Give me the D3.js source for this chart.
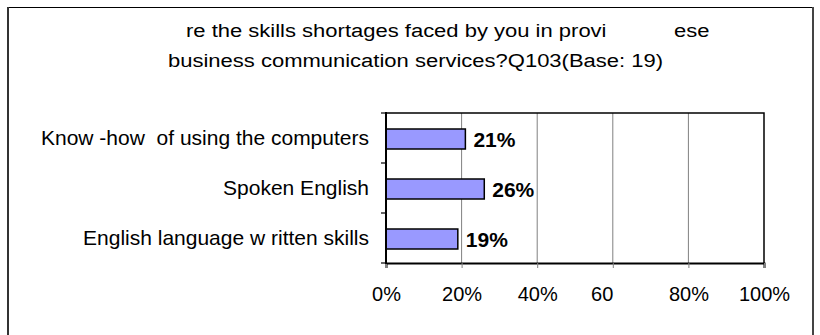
<!DOCTYPE html>
<html>
<head>
<meta charset="utf-8">
<script src="https://cdn.jsdelivr.net/npm/d3@7"></script>
<style>
  html, body { margin: 0; padding: 0; background: #fff; }
  svg { display: block; font-family: Arial, "Liberation Sans", sans-serif; }
</style>
</head>
<body>
<svg id="chart" width="820" height="335"></svg>
<script>
// Skills shortages (percent of respondents)
const categories = [
  "Know -how  of using the computers",
  "Spoken English",
  "English language w ritten skills"
];
const values = [21, 26, 19];
const tickValues = [0, 20, 40, 60, 80, 100];
const tickLabels = ["0%", "20%", "40%", "60", "80%", "100%"];
const titleLine1 = ["re the skills shortages faced by you in provi", "ese"];
const titleLine2 = "business communication services?Q103(Base: 19)";

const svg = d3.select("#chart");
const W = 820, H = 335;
const plot = { left: 386, right: 764, top: 113, bottom: 263 };

// outer frame (open at the bottom)
svg.append("line").attr("x1", 7).attr("x2", 814).attr("y1", 7.5).attr("y2", 7.5)
  .attr("stroke", "#000").attr("stroke-width", 1.2);
svg.append("line").attr("x1", 8).attr("x2", 8).attr("y1", 7).attr("y2", H)
  .attr("stroke", "#333").attr("stroke-width", 2);
svg.append("line").attr("x1", 813).attr("x2", 813).attr("y1", 7).attr("y2", H)
  .attr("stroke", "#444").attr("stroke-width", 2);

// title, set in a slightly widened face
const sx = 1.158;
const title = svg.append("g").attr("transform", `scale(${sx},1)`)
  .attr("font-size", 19).attr("fill", "#000");
title.append("text").attr("x", 186 / sx).attr("y", 37).text(titleLine1[0]);
title.append("text").attr("x", 674 / sx).attr("y", 37).text(titleLine1[1]);
title.append("text").attr("x", 168 / sx).attr("y", 67).text(titleLine2);

const x = d3.scaleLinear().domain([0, 100]).range([plot.left, plot.right]);
const y = d3.scaleBand().domain(categories).range([plot.top, plot.bottom])
  .paddingInner(0.6).paddingOuter(0.3);

// vertical gridlines
svg.append("g").selectAll("line").data(tickValues.slice(1, -1)).join("line")
  .attr("x1", d => x(d)).attr("x2", d => x(d))
  .attr("y1", plot.top).attr("y2", plot.bottom)
  .attr("stroke", "#808080").attr("stroke-width", 1);

// plot frame: top and right
svg.append("path")
  .attr("d", `M${plot.left},${plot.top}H${plot.right}V${plot.bottom}`)
  .attr("fill", "none").attr("stroke", "#000").attr("stroke-width", 1.5);

// bars
const barShift = 1;
svg.append("g").selectAll("rect").data(values).join("rect")
  .attr("x", x(0))
  .attr("y", (d, i) => y(categories[i]) + barShift)
  .attr("width", d => x(d) - x(0))
  .attr("height", y.bandwidth())
  .attr("fill", "#9999ff").attr("stroke", "#000").attr("stroke-width", 1.5);

// value labels
svg.append("g").selectAll("text").data(values).join("text")
  .attr("x", d => x(d) + 8)
  .attr("y", (d, i) => y(categories[i]) + barShift + y.bandwidth() / 2 + 7.5)
  .attr("font-size", 21).attr("font-weight", "bold")
  .text(d => d + "%");

// x axis
const xAxis = svg.append("g").attr("transform", `translate(0,${plot.bottom})`)
  .call(d3.axisBottom(x).tickValues(tickValues).tickSize(5).tickFormat((d, i) => tickLabels[i]));
xAxis.select(".domain").attr("stroke", "#000").attr("stroke-width", 2);
xAxis.selectAll(".tick line").attr("stroke", "#808080");
xAxis.selectAll(".tick text")
  .attr("font-size", 20).attr("font-family", "Arial, 'Liberation Sans', sans-serif")
  .attr("fill", "#000").attr("y", 24).attr("dy", "0.71em")
  .attr("text-anchor", (d, i) => tickLabels[i].includes("%") ? "middle" : "end");

// y axis with ticks at the band boundaries
const boundaries = [plot.top, ...categories.map(c => y(c) + y.bandwidth() / 2 + y.step() / 2)];
svg.append("g").selectAll("line").data(boundaries).join("line")
  .attr("x1", plot.left - 5).attr("x2", plot.left)
  .attr("y1", d => d).attr("y2", d => d)
  .attr("stroke", "#000").attr("stroke-width", 1.2);
svg.append("line").attr("x1", plot.left).attr("x2", plot.left)
  .attr("y1", plot.top - 1).attr("y2", plot.bottom + 1)
  .attr("stroke", "#000").attr("stroke-width", 2);

// category labels
svg.append("g").selectAll("text").data(categories).join("text")
  .attr("x", plot.left - 17)
  .attr("y", d => y(d) + barShift + y.bandwidth() / 2 + 6)
  .attr("text-anchor", "end").attr("font-size", 21)
  .attr("xml:space", "preserve")
  .style("white-space", "pre")
  .text(d => d);
</script>
</body>
</html>
